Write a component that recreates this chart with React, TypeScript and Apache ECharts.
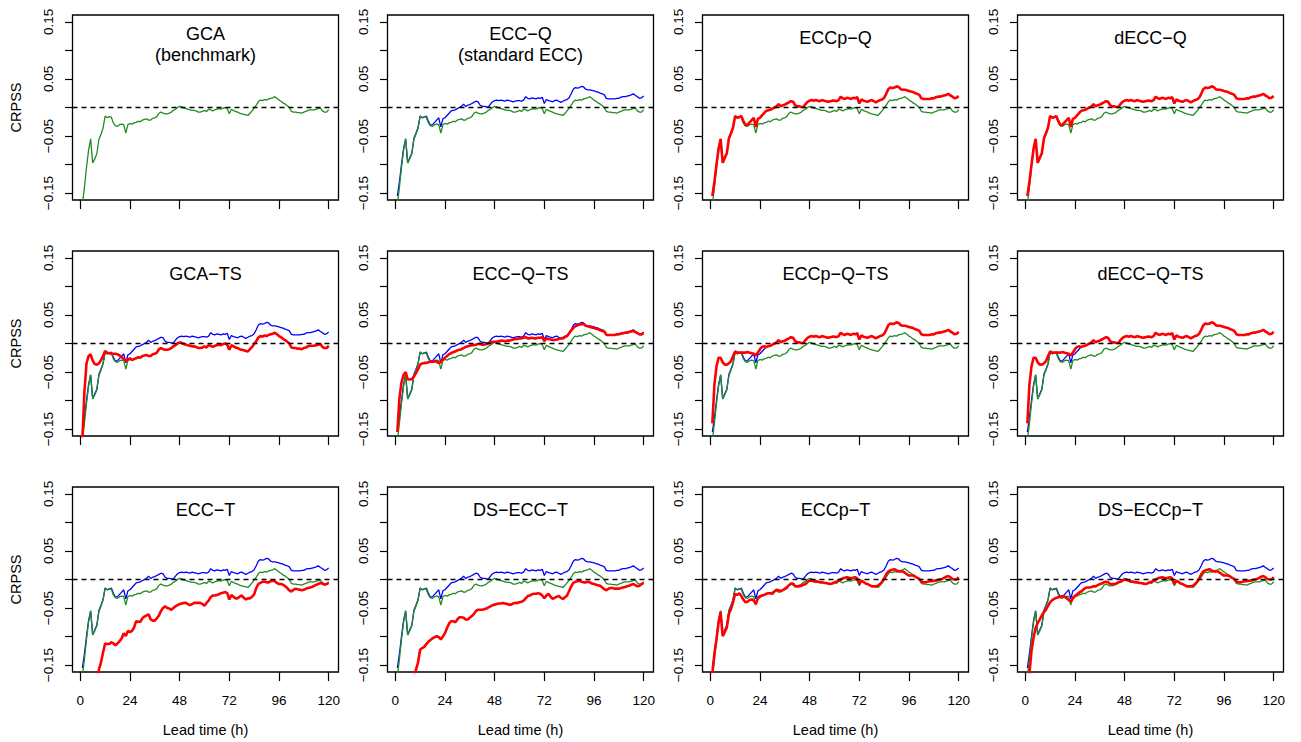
import React, { useEffect, useRef } from "react";
import * as echarts from "echarts";

// Lead times (hours)
const leads = [
  1, 2, 3, 4, 5, 6, 7, 8, 9, 10, 11, 12, 13, 14, 15, 16, 17, 18, 19, 20,
  21, 22, 23, 24, 25, 26, 27, 28, 29, 30, 31, 32, 33, 34, 35, 36, 37, 38, 39, 40,
  41, 42, 43, 44, 45, 46, 47, 48, 49, 50, 51, 52, 53, 54, 55, 56, 57, 58, 59, 60,
  61, 62, 63, 64, 65, 66, 67, 68, 69, 70, 71, 72, 73, 74, 75, 76, 77, 78, 79, 80,
  81, 82, 83, 84, 85, 86, 87, 88, 89, 90, 91, 92, 93, 94, 95, 96, 97, 98, 99, 100,
  101, 102, 103, 104, 105, 106, 107, 108, 109, 110, 111, 112, 113, 114, 115, 116, 117, 118, 119, 120,
];

const xTicks = [0, 24, 48, 72, 96, 120];
const yTicks = [-0.15, -0.1, -0.05, 0, 0.05, 0.1, 0.15];
const yTickLabels = [-0.15, -0.05, 0.05, 0.15];

// GCA (benchmark) – green
const gca = [
  -0.170, -0.140, -0.105, -0.075, -0.055, -0.097, -0.090, -0.081, -0.056, -0.047,
  -0.036, -0.015, -0.018, -0.016, -0.017, -0.027, -0.032, -0.033, -0.030, -0.029,
  -0.030, -0.045, -0.030, -0.028, -0.029, -0.027, -0.026, -0.024, -0.025, -0.022,
  -0.021, -0.020, -0.022, -0.022, -0.019, -0.018, -0.016, -0.010, -0.008, -0.010,
  -0.011, -0.011, -0.010, -0.008, -0.005, -0.003, 0.000, 0.002, 0.001, -0.001,
  -0.002, -0.003, -0.004, -0.005, -0.005, -0.006, -0.008, -0.008, -0.007, -0.005,
  -0.007, -0.003, -0.004, -0.006, -0.004, -0.003, -0.002, -0.003, -0.001, 0.000,
  -0.002, -0.011, -0.003, -0.005, -0.007, -0.008, -0.010, -0.011, -0.012, -0.013,
  -0.014, -0.010, -0.006, -0.001, 0.004, 0.010, 0.013, 0.012, 0.014, 0.013,
  0.015, 0.016, 0.017, 0.019, 0.016, 0.013, 0.011, 0.008, 0.006, 0.003,
  0.000, -0.007, -0.008, -0.008, -0.009, -0.009, -0.010, -0.008, -0.007, -0.005,
  -0.004, -0.004, -0.004, -0.003, -0.002, -0.001, -0.006, -0.008, -0.008, -0.004,
];

// ECC-Q (standard ECC) – blue
const eccQ = [
  -0.155, -0.130, -0.100, -0.072, -0.055, -0.097, -0.088, -0.080, -0.054, -0.045,
  -0.035, -0.015, -0.018, -0.017, -0.015, -0.024, -0.031, -0.030, -0.026, -0.022,
  -0.018, -0.034, -0.020, -0.018, -0.014, -0.010, -0.006, -0.005, -0.004, -0.002,
  0.000, 0.002, 0.006, 0.002, 0.004, 0.005, 0.007, 0.009, 0.011, 0.010,
  0.004, 0.002, 0.002, 0.001, 0.001, 0.006, 0.010, 0.012, 0.013, 0.012,
  0.013, 0.012, 0.011, 0.013, 0.012, 0.011, 0.010, 0.011, 0.012, 0.012,
  0.011, 0.013, 0.019, 0.016, 0.015, 0.017, 0.016, 0.015, 0.017, 0.016,
  0.018, 0.007, 0.014, 0.012, 0.011, 0.010, 0.012, 0.013, 0.011, 0.009,
  0.011, 0.013, 0.014, 0.017, 0.024, 0.032, 0.035, 0.034, 0.035, 0.037,
  0.036, 0.032, 0.031, 0.031, 0.030, 0.029, 0.028, 0.027, 0.025, 0.024,
  0.022, 0.016, 0.015, 0.015, 0.015, 0.015, 0.016, 0.016, 0.018, 0.019,
  0.019, 0.020, 0.021, 0.022, 0.024, 0.021, 0.019, 0.016, 0.017, 0.020,
];

// ECCp-Q and dECC-Q coincide with ECC-Q
const eccpQ = [...eccQ];
const deccQ = [...eccQ];

// GCA-TS: differs from GCA over the first 24 h
const gcaTSEarly = [
  -0.170, -0.085, -0.035, -0.022, -0.019, -0.030, -0.036, -0.037, -0.035, -0.029,
  -0.022, -0.013, -0.016, -0.017, -0.018, -0.018, -0.018, -0.019, -0.021, -0.024,
  -0.027, -0.031, -0.028, -0.026,
];
const gcaTS = [...gcaTSEarly, ...gca.slice(24)];

// ECC-Q-TS
const eccQTS = [
  -0.155, -0.096, -0.068, -0.055, -0.050, -0.063, -0.063, -0.062, -0.058, -0.052,
  -0.045, -0.037, -0.035, -0.034, -0.034, -0.033, -0.032, -0.032, -0.031, -0.032,
  -0.034, -0.033, -0.028, -0.025, -0.022, -0.019, -0.017, -0.015, -0.014, -0.012,
  -0.011, -0.010, -0.008, -0.006, -0.005, -0.004, -0.003, -0.003, -0.002, -0.001,
  -0.001, -0.002, -0.002, -0.001, 0.000, 0.002, 0.003, 0.003, 0.003, 0.004,
  0.005, 0.005, 0.004, 0.005, 0.005, 0.006, 0.007, 0.008, 0.008, 0.009,
  0.009, 0.010, 0.011, 0.009, 0.009, 0.010, 0.009, 0.009, 0.010, 0.010,
  0.011, 0.004, 0.009, 0.008, 0.007, 0.006, 0.006, 0.007, 0.008, 0.009,
  0.009, 0.011, 0.013, 0.018, 0.023, 0.027, 0.030, 0.032, 0.033, 0.034,
  0.034, 0.031, 0.030, 0.029, 0.028, 0.027, 0.026, 0.025, 0.023, 0.022,
  0.021, 0.015, 0.015, 0.015, 0.015, 0.015, 0.016, 0.016, 0.017, 0.018,
  0.019, 0.019, 0.020, 0.021, 0.022, 0.020, 0.018, 0.016, 0.016, 0.018,
];

// ECCp-Q-TS / dECC-Q-TS: differ from ECC-Q over the first 26 h
const eccpQTSEarly = [
  -0.140, -0.072, -0.040, -0.025, -0.025, -0.033, -0.037, -0.037, -0.035, -0.031,
  -0.022, -0.014, -0.016, -0.016, -0.016, -0.016, -0.016, -0.015, -0.016, -0.017,
  -0.018, -0.021, -0.016, -0.010, -0.006, -0.005,
];
const eccpQTS = [...eccpQTSEarly, ...eccQ.slice(26)];
const deccQTS = [...eccpQTS];

// ECC-T
const eccT = [
  -0.400, -0.360, -0.320, -0.280, -0.250, -0.220, -0.200, -0.178, -0.158, -0.145,
  -0.128, -0.112, -0.113, -0.113, -0.110, -0.112, -0.115, -0.112, -0.108, -0.103,
  -0.094, -0.099, -0.090, -0.092, -0.090, -0.084, -0.073, -0.074, -0.074, -0.068,
  -0.065, -0.063, -0.061, -0.070, -0.072, -0.072, -0.068, -0.063, -0.055, -0.050,
  -0.047, -0.050, -0.051, -0.053, -0.050, -0.047, -0.045, -0.043, -0.042, -0.041,
  -0.041, -0.043, -0.045, -0.043, -0.041, -0.041, -0.041, -0.041, -0.043, -0.046,
  -0.041, -0.037, -0.031, -0.028, -0.028, -0.027, -0.026, -0.024, -0.023, -0.022,
  -0.024, -0.035, -0.027, -0.030, -0.033, -0.033, -0.030, -0.028, -0.032, -0.035,
  -0.033, -0.033, -0.030, -0.026, -0.015, -0.008, -0.006, -0.004, -0.004, -0.005,
  -0.005, -0.003, -0.002, -0.003, -0.006, -0.008, -0.008, -0.009, -0.012, -0.015,
  -0.019, -0.021, -0.018, -0.016, -0.017, -0.018, -0.019, -0.018, -0.016, -0.015,
  -0.014, -0.013, -0.011, -0.009, -0.008, -0.006, -0.007, -0.009, -0.008, -0.006,
];

// DS-ECC-T
const dsEccT = [
  -0.400, -0.370, -0.340, -0.310, -0.280, -0.250, -0.220, -0.195, -0.175, -0.158,
  -0.145, -0.123, -0.120, -0.118, -0.113, -0.109, -0.106, -0.103, -0.101, -0.099,
  -0.101, -0.105, -0.100, -0.094, -0.085, -0.077, -0.073, -0.073, -0.075, -0.070,
  -0.066, -0.066, -0.067, -0.070, -0.070, -0.067, -0.064, -0.060, -0.055, -0.053,
  -0.053, -0.053, -0.052, -0.051, -0.049, -0.047, -0.045, -0.044, -0.043, -0.042,
  -0.042, -0.041, -0.042, -0.043, -0.044, -0.044, -0.042, -0.041, -0.041, -0.040,
  -0.039, -0.037, -0.033, -0.029, -0.028, -0.026, -0.025, -0.025, -0.024, -0.025,
  -0.028, -0.033, -0.028, -0.025, -0.030, -0.034, -0.032, -0.030, -0.029, -0.032,
  -0.034, -0.031, -0.028, -0.020, -0.012, -0.006, -0.004, -0.003, -0.002, -0.004,
  -0.005, -0.005, -0.004, -0.005, -0.007, -0.008, -0.009, -0.010, -0.011, -0.014,
  -0.017, -0.019, -0.016, -0.015, -0.015, -0.016, -0.016, -0.016, -0.015, -0.014,
  -0.013, -0.012, -0.011, -0.009, -0.008, -0.010, -0.012, -0.011, -0.008, -0.006,
];

// ECCp-T
const eccpT = [
  -0.165, -0.130, -0.105, -0.075, -0.057, -0.099, -0.092, -0.084, -0.060, -0.052,
  -0.040, -0.025, -0.027, -0.024, -0.029, -0.035, -0.040, -0.039, -0.036, -0.035,
  -0.037, -0.043, -0.033, -0.030, -0.028, -0.027, -0.025, -0.024, -0.024, -0.025,
  -0.021, -0.018, -0.019, -0.020, -0.019, -0.016, -0.014, -0.010, -0.007, -0.007,
  -0.012, -0.012, -0.012, -0.011, -0.009, -0.008, -0.004, -0.002, -0.002, -0.003,
  -0.004, -0.004, -0.005, -0.005, -0.006, -0.006, -0.007, -0.008, -0.007, -0.005,
  -0.004, -0.002, 0.000, 0.002, 0.003, 0.004, 0.003, 0.002, 0.003, 0.004,
  0.002, -0.008, -0.002, -0.004, -0.007, -0.008, -0.010, -0.012, -0.012, -0.012,
  -0.011, -0.008, -0.004, 0.002, 0.009, 0.014, 0.016, 0.017, 0.018, 0.016,
  0.014, 0.014, 0.014, 0.012, 0.009, 0.007, 0.007, 0.007, 0.005, 0.003,
  0.001, -0.004, -0.005, -0.005, -0.004, -0.003, -0.003, -0.002, -0.002, -0.001,
  0.000, 0.001, 0.003, 0.005, 0.006, 0.004, 0.001, 0.000, 0.000, 0.004,
];

// DS-ECCp-T: differs from ECCp-T over the first 50 h
const dsEccpTEarly = [
  -0.250, -0.165, -0.125, -0.102, -0.085, -0.076, -0.070, -0.063, -0.057, -0.053,
  -0.046, -0.040, -0.036, -0.034, -0.032, -0.031, -0.030, -0.029, -0.030, -0.033,
  -0.036, -0.039, -0.033, -0.029, -0.026, -0.023, -0.021, -0.018, -0.015, -0.014,
  -0.014, -0.013, -0.012, -0.012, -0.010, -0.008, -0.007, -0.005, -0.004, -0.005,
  -0.008, -0.008, -0.008, -0.007, -0.005, -0.004, -0.002, 0.000, -0.001, -0.002,
];
const dsEccpT = [...dsEccpTEarly, ...eccpT.slice(50)];

const titles = [
  ["GCA", "(benchmark)"],
  ["ECC\u2212Q", "(standard ECC)"],
  ["ECCp\u2212Q"],
  ["dECC\u2212Q"],
  ["GCA\u2212TS"],
  ["ECC\u2212Q\u2212TS"],
  ["ECCp\u2212Q\u2212TS"],
  ["dECC\u2212Q\u2212TS"],
  ["ECC\u2212T"],
  ["DS\u2212ECC\u2212T"],
  ["ECCp\u2212T"],
  ["DS\u2212ECCp\u2212T"],
];

// which curves each panel shows (blue, green, red)
const panelRed = [null, null, eccpQ, deccQ, gcaTS, eccQTS, eccpQTS, deccQTS, eccT, dsEccT, eccpT, dsEccpT];
const panelBlue = [false, true, false, false, true, true, true, true, true, true, true, true];

const BLUE = "#0000FF";
const GREEN = "#228B22";
const RED = "#FF0000";
const FONT = "'Liberation Sans', Arial, Helvetica, sans-serif";

const COL_LEFT = [72.5, 387.5, 702.5, 1017.5];
const ROW_TOP = [15, 251, 487];
const W = 266;
const H = 185;

function toPairs(vals: number[]) {
  return leads.map((l, k) => [l, vals[k]]);
}

function buildOption() {
  const grid: any[] = [];
  const xAxis: any[] = [];
  const yAxis: any[] = [];
  const series: any[] = [];
  const graphic: any[] = [];

  for (let i = 0; i < 12; i++) {
    const r = Math.floor(i / 4);
    const c = i % 4;
    const left = COL_LEFT[c];
    const top = ROW_TOP[r];
    grid.push({
      left,
      top,
      width: W,
      height: H,
      show: true,
      borderColor: "#000",
      borderWidth: 1.3,
      backgroundColor: "transparent",
      containLabel: false,
    });
    xAxis.push({
      gridIndex: i,
      type: "value",
      min: -3.76,
      max: 124.76,
      axisLine: { show: false, onZero: false },
      splitLine: { show: false },
      axisTick: {
        show: true,
        length: 9,
        lineStyle: { color: "#000", width: 1.2 },
        customValues: xTicks,
      },
      axisLabel: {
        show: r === 2,
        customValues: xTicks,
        margin: 21,
        fontSize: 13.5,
        color: "#000",
        fontFamily: FONT,
      },
      name: r === 2 ? "Lead time (h)" : "",
      nameLocation: "middle",
      nameGap: 50,
      nameTextStyle: { fontSize: 14.5, color: "#000", fontFamily: FONT },
    });
    yAxis.push({
      gridIndex: i,
      type: "value",
      min: -0.162,
      max: 0.162,
      axisLine: { show: false, onZero: false },
      splitLine: { show: false },
      axisTick: {
        show: true,
        length: 7.5,
        lineStyle: { color: "#000", width: 1.2 },
        customValues: yTicks,
      },
      axisLabel: {
        show: true,
        customValues: yTickLabels,
        rotate: 90,
        margin: 17,
        fontSize: 13.5,
        color: "#000",
        fontFamily: FONT,
        formatter: (v: number) => v.toFixed(2).replace("-", "\u2212"),
      },
      name: c === 0 ? "CRPSS" : "",
      nameLocation: "middle",
      nameRotate: 90,
      nameGap: 49,
      nameTextStyle: { fontSize: 14.5, color: "#000", fontFamily: FONT },
    });

    const zeroLine = {
      silent: true,
      symbol: ["none", "none"],
      label: { show: false },
      lineStyle: { type: [5, 4], color: "#000", width: 1.3 },
      data: [{ yAxis: 0 }],
    };

    const common = {
      type: "line",
      xAxisIndex: i,
      yAxisIndex: i,
      showSymbol: false,
      symbol: "none",
      clip: true,
      silent: true,
    };

    if (panelBlue[i]) {
      series.push({
        ...common,
        name: "ECC-Q",
        data: toPairs(eccQ),
        lineStyle: { color: BLUE, width: 1.3 },
        z: 2,
      });
    }
    series.push({
      ...common,
      name: "GCA",
      data: toPairs(gca),
      lineStyle: { color: GREEN, width: 1.3 },
      markLine: zeroLine,
      z: 3,
    });
    const red = panelRed[i];
    if (red) {
      series.push({
        ...common,
        name: titles[i].join(" "),
        data: toPairs(red),
        lineStyle: { color: RED, width: 2.6 },
        z: 4,
      });
    }

    const cx = left + W / 2;
    const lines = titles[i];
    if (lines.length === 2) {
      graphic.push({
        type: "text",
        x: cx,
        y: top + 18.6,
        style: { text: lines[0], fontSize: 18, fontFamily: FONT, fill: "#000", align: "center", verticalAlign: "middle" },
      });
      graphic.push({
        type: "text",
        x: cx,
        y: top + 39.6,
        style: { text: lines[1], fontSize: 18, fontFamily: FONT, fill: "#000", align: "center", verticalAlign: "middle" },
      });
    } else {
      graphic.push({
        type: "text",
        x: cx,
        y: top + 22.5,
        style: { text: lines[0], fontSize: 18, fontFamily: FONT, fill: "#000", align: "center", verticalAlign: "middle" },
      });
    }
  }

  return {
    animation: false,
    backgroundColor: "#fff",
    textStyle: { fontFamily: FONT },
    grid,
    xAxis,
    yAxis,
    series,
    graphic,
  };
}

export default function App() {
  const ref = useRef<HTMLDivElement>(null);
  useEffect(() => {
    if (!ref.current) return;
    const chart = echarts.init(ref.current, undefined, { renderer: "svg" });
    chart.setOption(buildOption() as any);
    return () => chart.dispose();
  }, []);
  return (
    <div
      ref={ref}
      style={{ position: "fixed", left: 0, top: 0, width: 1301, height: 742, background: "#fff" }}
    />
  );
}
